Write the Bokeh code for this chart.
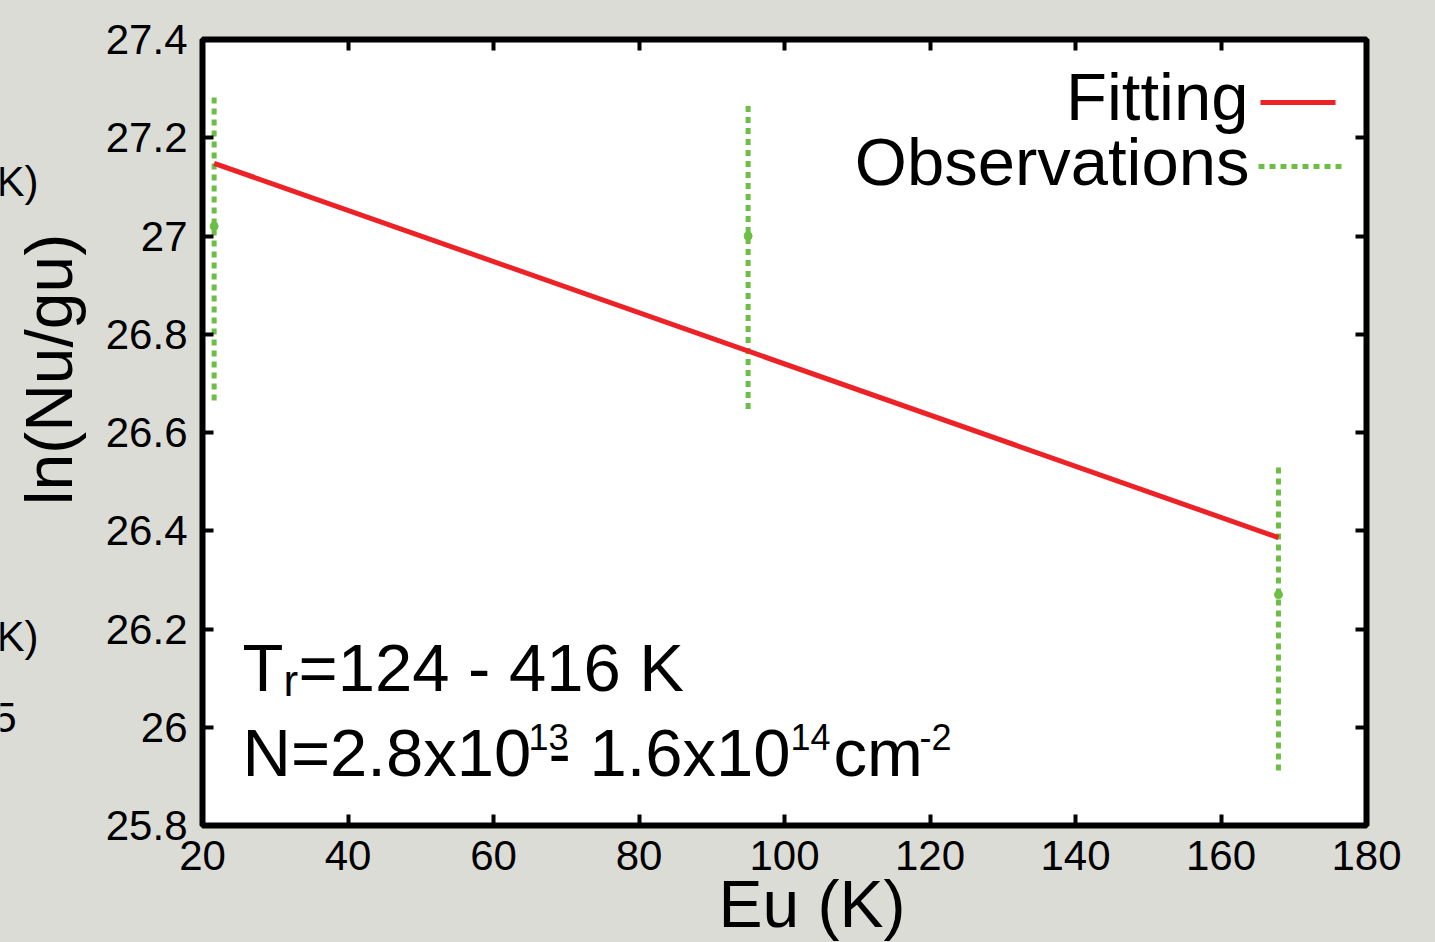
import math

from bokeh.embed import file_html
from bokeh.layouts import row
from bokeh.models import (Arrow, CustomJSTickFormatter, FixedTicker, Label,
                          LinearAxis, Range1d, Title)
from bokeh.plotting import figure
from bokeh.resources import INLINE

# Upper-level energies (K) and ln(Nu/gu) of the observed transitions
eu_obs = [21.6, 95.0, 167.9]
ln_obs = [27.02, 27.00, 26.27]
ln_low = [26.665, 26.648, 25.912]
ln_high = [27.288, 27.268, 26.536]

# Rotation-diagram fit through the observations
eu_fit = [21.6, 167.9]
ln_fit = [27.148, 26.386]

x_ticks = [20, 40, 60, 80, 100, 120, 140, 160, 180]
y_ticks = [25.8, 26.0, 26.2, 26.4, 26.6, 26.8, 27.0, 27.2, 27.4]
y_tick_labels = ["25.8", "26", "26.2", "26.4", "26.6", "26.8", "27", "27.2", "27.4"]

# Page geometry (pixels): a narrow left strip plus the main panel
W, H = 1435, 942
STRIP = 100
FL, FR, FT, FB = 202, 1366, 39, 825
X0, X1 = 20, 180
Y0, Y1 = 25.8, 27.4

FONT = "Liberation Sans"
RED = "#ec2227"
GREEN = "#6cbe44"
BG = "#dcdcd7"
BASE_SHIFT = 0.385  # anchor-to-baseline distance of Label text, in em


def xd(px):
    """Page x pixel -> data x of the main panel."""
    return X0 + (px - FL) * (X1 - X0) / (FR - FL)


def yd(py):
    """Page y pixel (from top) -> data y of the main panel."""
    return Y1 - (py - FT) * (Y1 - Y0) / (FB - FT)


# ---------------------------------------------------------------- main panel
p = figure(width=W - STRIP, height=H,
           x_range=Range1d(X0, X1), y_range=Range1d(Y0, Y1),
           output_backend="svg", toolbar_location=None,
           min_border_left=FL - STRIP, min_border_right=W - FR,
           min_border_top=FT, min_border_bottom=H - FB,
           background_fill_color="white", border_fill_color=BG,
           outline_line_color="black", outline_line_width=6)
p.grid.visible = False

blank = CustomJSTickFormatter(code="return ''")


def style_axis(ax, ticks, labelled, standoff=0):
    ax.ticker = FixedTicker(ticks=ticks)
    ax.axis_line_color = None
    ax.major_tick_in = 11
    ax.major_tick_out = 0
    ax.major_tick_line_width = 4
    ax.major_tick_line_color = "black"
    ax.minor_tick_line_color = None
    ax.major_label_standoff = standoff
    if labelled:
        ax.major_label_text_font = FONT
        ax.major_label_text_font_size = "42px"
        ax.major_label_text_color = "black"
    else:
        ax.formatter = blank


style_axis(p.xaxis[0], x_ticks, True, standoff=15)
style_axis(p.yaxis[0], y_ticks, True, standoff=15)
p.yaxis[0].major_label_overrides = dict(zip(y_ticks, y_tick_labels))

top_axis = LinearAxis()
style_axis(top_axis, x_ticks, False)
p.add_layout(top_axis, "above")
right_axis = LinearAxis()
style_axis(right_axis, y_ticks, False)
p.add_layout(right_axis, "right")

# X-axis title, placed under the tick labels
p.add_layout(Title(text="Eu (K)", align="left", offset=718 - FL,
                   vertical_align="top", standoff=-12,
                   text_font=FONT, text_font_size="66px",
                   text_font_style="normal", text_color="black"), "below")

# Observations with error bars
p.segment(x0=eu_obs, y0=ln_low, x1=eu_obs, y1=ln_high,
          line_color=GREEN, line_width=5, line_dash="6 5")
p.scatter(eu_obs, ln_obs, marker="circle", size=8, color=GREEN)

# Fitted line
p.line(eu_fit, ln_fit, line_color=RED, line_width=5)


def label(text, px, py, size, align="left"):
    """Text whose baseline starts at page pixel (px, py)."""
    p.add_layout(Label(x=xd(px), y=yd(py - BASE_SHIFT * size), text=text,
                       text_font=FONT, text_font_size=f"{size}px",
                       text_color="black", text_align=align,
                       text_baseline="alphabetic"))


# Legend: label on the left, sample line on the right
label("Fitting", 1248, 122, 67, align="right")
label("Observations", 1249, 187, 67, align="right")
p.add_layout(Arrow(x_start=xd(1260), y_start=yd(102), x_end=xd(1335), y_end=yd(102),
                   start=None, end=None, line_color=RED, line_width=5))
p.add_layout(Arrow(x_start=xd(1258), y_start=yd(166), x_end=xd(1342), y_end=yd(166),
                   start=None, end=None, line_color=GREEN, line_width=5,
                   line_dash="6 5"))

# Rotation temperature and column density annotation
label("T", 242, 693, 67)
label("r", 283, 697, 44)
label("=124 - 416 K", 298, 693, 67)
label("N=2.8x10", 242, 778, 67)
label("13", 528, 750, 36)
label("- 1.6x10", 548, 778, 67)
label("14", 790, 750, 36)
label("cm", 833, 778, 67)
label("-2", 919, 750, 36)

# ---------------------------------------------------------------- left strip
# Its frame spans the same rows as the main panel; data units are page pixels.
s = figure(width=STRIP, height=H, x_range=Range1d(0, STRIP), y_range=Range1d(FB, FT),
           x_axis_type=None, y_axis_type=None,
           output_backend="svg", toolbar_location=None,
           min_border_left=0, min_border_right=0,
           min_border_top=FT, min_border_bottom=H - FB,
           background_fill_color=None, border_fill_color=BG,
           outline_line_color=None)
s.grid.visible = False


def strip_label(text, px, py, size, align="left", angle=0.0, shift=(0.0, 1.0)):
    s.add_layout(Label(x=px - shift[0] * BASE_SHIFT * size,
                       y=py - shift[1] * BASE_SHIFT * size,
                       text=text, text_font=FONT, text_font_size=f"{size}px",
                       text_color="black", text_align=align,
                       text_baseline="alphabetic", angle=angle))


# Y-axis title, read bottom to top
strip_label("ln(Nu/gu)", 74, 369, 66, align="center", angle=math.pi / 2,
            shift=(1.0, 0.0))

# Fragments of the neighbouring panel at the left edge
strip_label("K)", 38, 197, 42, align="right")
strip_label("K)", 38, 652, 42, align="right")
strip_label("5", 16, 733, 42, align="right")

layout = row(s, p, spacing=0, styles={"background-color": BG})
open("out.html", "w").write(file_html(layout, INLINE))
